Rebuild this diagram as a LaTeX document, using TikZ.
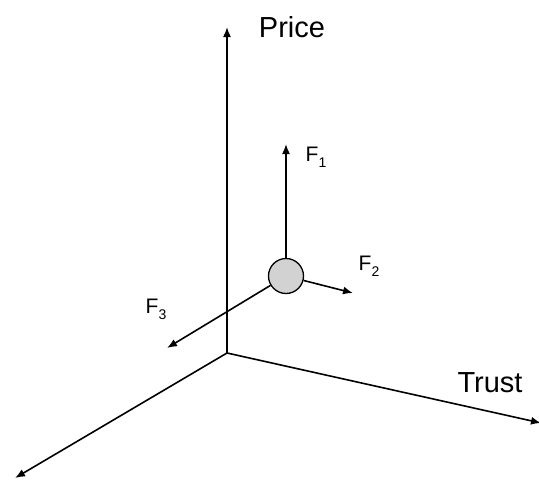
\documentclass[tikz,border=0pt]{standalone}
\usepackage{fontspec}
\setmainfont{Liberation Sans}
\usetikzlibrary{arrows.meta, positioning, calc}

\newcommand{\Fsub}[1]{F{\fontsize{14}{16}\selectfont\raisebox{-6pt}{#1}}}

\begin{document}
\begin{tikzpicture}[x=1pt, y=-1pt,
    axis/.style={line width=1.6pt, -{Latex[length=10pt, width=8pt]}},
    force/.style={line width=1.6pt, -{Latex[length=10pt, width=8pt]}},
    lbl/.style={inner sep=0pt, font=\fontsize{29}{34}\selectfont},
    flbl/.style={inner sep=0pt, font=\fontsize{21}{25}\selectfont},
    ball/.style={circle, draw, line width=1.3pt, fill=gray!35, minimum size=35pt, inner sep=0pt}]
    \useasboundingbox (0,0) rectangle (539,483);

    % Axes
    \coordinate (O) at (227,353);
    \coordinate (P) at (227,27);
    \coordinate (T) at (541,423);
    \coordinate (D) at (15,478);
    \draw[axis] (O) -- (P);
    \draw[axis] (O) -- (T);
    \draw[axis] (O) -- (D);
    \node[lbl] (price) at (292,27) {Price};
    \node[lbl] (trust) at (490,383) {Trust};

    % Ball and forces
    \node[ball] (m) at (286,276) {};
    \coordinate (f1) at (286,144);
    \coordinate (f2) at (353,293);
    \coordinate (f3) at (167,348);
    \draw[force] (m) -- (f1);
    \draw[force] (m) -- (f2);
    \draw[force] (m) -- (f3);
    \node[flbl] (F1) at (316,157) {\Fsub{1}};
    \node[flbl] (F2) at (369,266) {\Fsub{2}};
    \node[flbl] (F3) at (156,309) {\Fsub{3}};

\end{tikzpicture}
\end{document}
